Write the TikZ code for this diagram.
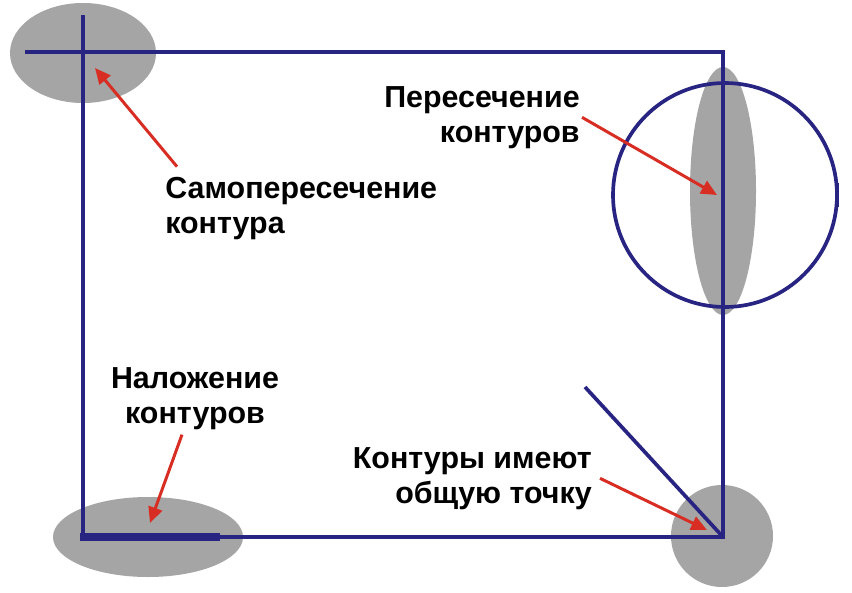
\documentclass[tikz,border=0pt]{standalone}
\usepackage{fontspec}
\setmainfont{Liberation Sans}
\usetikzlibrary{arrows.meta,calc}
\definecolor{darkblue}{RGB}{40,36,130}
\definecolor{spotgray}{RGB}{165,165,165}
\definecolor{arrowred}{RGB}{215,45,35}

\begin{document}
\begin{tikzpicture}[x=0.02cm,y=-0.02cm,
    contour/.style={draw=darkblue, line width=2.1pt},
    spot/.style={fill=spotgray},
    pointer/.style={draw=arrowred, line width=1.7pt, -{Triangle[length=9pt,width=8pt]}},
    caption/.style={font=\bfseries\fontsize{17.3}{19.8}\selectfont, inner sep=0pt}]
    \useasboundingbox (0,0) rectangle (852,592);
    \fill[white] (0,0) rectangle (852,592);
    \coordinate (tl) at (83,52);
    \coordinate (tr) at (723,52);
    \coordinate (br) at (723,537);
    \coordinate (bl) at (83,537);
    \coordinate (ring) at (725,195);
    \fill[spot] (83,53) ellipse (73 and 50);
    \fill[spot] (723,191) ellipse (33 and 124);
    \fill[spot] (148,537) ellipse (95 and 40);
    \fill[spot] (722,536) circle (51);
    \draw[contour] (83,15) -- (bl) -- (br) -- (tr) -- (25,52);
    \draw[darkblue, line width=4.2pt] (80,537) -- (220,537);
    \draw[contour] (ring) circle (112);
    \draw[darkblue, line width=2.8pt] (837,183) -- (837,207);
    \draw[contour] (585,387) -- (br);
    \node[caption, anchor=base west, align=left] (selfcross) at (165,233) {Самопересечение\\контура};
    \node[caption, anchor=base east, align=right] (crossing) at (580,142) {Пересечение\\контуров};
    \node[caption, anchor=base, align=center] (overlap) at (195,423) {Наложение\\контуров};
    \node[caption, anchor=base east, align=right] (touch) at (592,503) {Контуры имеют\\общую точку};
    \coordinate (selftip) at (95,68);
    \coordinate (crosstip) at (717,195);
    \coordinate (overtip) at (150,523);
    \coordinate (touchtip) at (707,530);
    \draw[pointer] ($(selfcross.north west)+(12,-10)$) -- (selftip);
    \draw[pointer] ($(crossing.east)+(2,0)$) -- (crosstip);
    \draw[pointer] ($(overlap.south)+(-13,5)$) -- (overtip);
    \draw[pointer] ($(touch.east)+(8,0)$) -- (touchtip);
\end{tikzpicture}
\end{document}
